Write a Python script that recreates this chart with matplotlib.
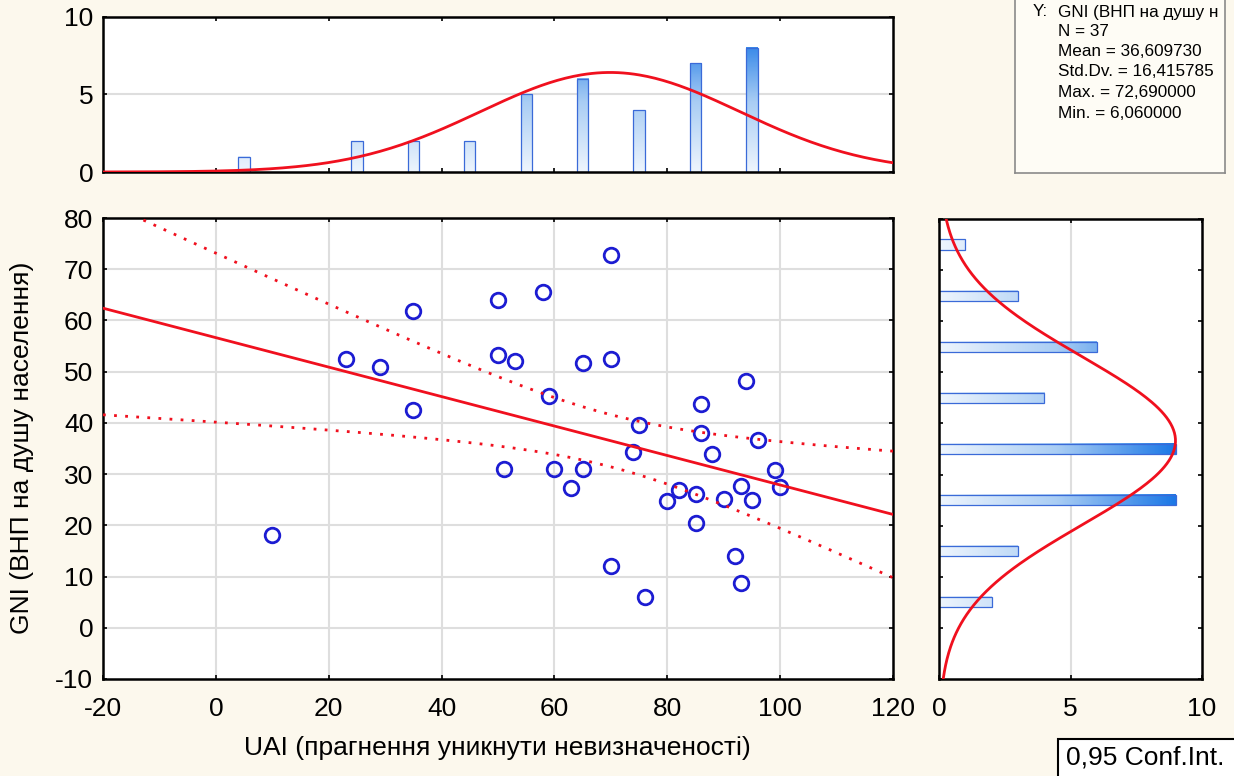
import numpy as np
import matplotlib
matplotlib.use("Agg")
import matplotlib.pyplot as plt
from matplotlib.colors import LinearSegmentedColormap
from matplotlib.patches import Rectangle

plt.rcParams["font.family"] = ["Liberation Sans", "DejaVu Sans"]
plt.rcParams["axes.unicode_minus"] = False

# scatter data
uai = [70, 58, 50, 35, 50, 53, 23, 29, 65, 70, 94, 59, 35, 86, 75, 86, 96, 88, 74,
       51, 60, 65, 63, 82, 85, 80, 90, 93, 95, 99, 100, 85, 92, 93, 70, 76, 10]
gni = [72.69, 65.5, 64.0, 61.8, 53.2, 52.1, 52.5, 50.9, 51.7, 52.5, 48.2, 45.2, 42.5,
       43.7, 39.6, 38.1, 36.6, 33.9, 34.3, 31.0, 31.0, 31.0, 27.3, 26.9, 26.1, 24.7,
       25.1, 27.7, 24.9, 30.8, 27.5, 20.4, 14.0, 8.7, 12.0, 6.06, 18.1]

# marginal histograms
uai_bins = [5, 15, 25, 35, 45, 55, 65, 75, 85, 95]
uai_counts = [1, 0, 2, 2, 2, 5, 6, 4, 7, 8]
gni_bins = [5, 15, 25, 35, 45, 55, 65, 75]
gni_counts = [2, 3, 9, 9, 4, 6, 3, 1]

# the stats box is cut at its right edge in the source, only this part shows
stats_title = "GNI (ВНП на душу н"
stats_lines = ["N = 37", "Mean = 36,609730", "Std.Dv. = 16,415785",
               "Max. = 72,690000", "Min. = 6,060000"]
gni_mean, gni_sd = 36.609730, 16.415785

BG = "#fcf8ed"
RED = "#f0101e"
BLUE = "#1c1cd2"
GRID = "#dedede"
EDGE = "#3a6ad8"
cmap = LinearSegmentedColormap.from_list("bar", ["#eef5fd", "#a9cdf4", "#1c78e6"])

W, H = 1234, 776
fig = plt.figure(figsize=(W / 100, H / 100), dpi=100, facecolor=BG)


def px(x0, y0, x1, y1):
    return [x0 / W, 1 - y1 / H, (x1 - x0) / W, (y1 - y0) / H]


ax_top = fig.add_axes(px(103, 17, 893, 172))
ax = fig.add_axes(px(103, 218, 893, 679))
ax_r = fig.add_axes(px(939, 219, 1202, 679))

for a in (ax_top, ax, ax_r):
    for s in a.spines.values():
        s.set_linewidth(1.8)
        s.set_color("black")
    a.tick_params(direction="in", length=3, width=1.2, labelsize=19,
                  top=True, right=True, pad=7)
    a.tick_params(axis="x", pad=13)
    a.set_axisbelow(True)

x = np.array(uai, dtype=float)
y = np.array(gni, dtype=float)
n = len(x)

# main scatter with regression line and 95% confidence band
ax.set_xlim(-20, 120)
ax.set_ylim(-10, 80)
ax.set_xticks(range(-20, 121, 20))
ax.set_yticks(range(-10, 81, 10))
for v in range(0, 101, 20):
    ax.axvline(v, color=GRID, lw=1.5, zorder=0)
for v in range(0, 80, 10):
    ax.axhline(v, color=GRID, lw=1.5, zorder=0)

b, a0 = np.polyfit(x, y, 1)
xs = np.linspace(-20, 120, 300)
fit = a0 + b * xs
resid = y - (a0 + b * x)
s_err = np.sqrt(np.sum(resid ** 2) / (n - 2))
sxx = np.sum((x - x.mean()) ** 2)
t_crit = 2.0301  # t(0.975, df=35)
half = t_crit * s_err * np.sqrt(1 / n + (xs - x.mean()) ** 2 / sxx)

ax.plot(x, y, "o", mfc="none", mec=BLUE, ms=10.5, mew=2, zorder=3)
ax.plot(xs, fit, color=RED, lw=2, zorder=4)
ax.plot(xs, fit + half, color=RED, lw=2, ls=(0, (1, 3)), zorder=4)
ax.plot(xs, fit - half, color=RED, lw=2, ls=(0, (1, 3)), zorder=4)

# top histogram of UAI
ax_top.set_yticks([0, 5, 10])
ax_top.set_xticks(range(0, 101, 20))
ax_top.tick_params(labelbottom=False)
ax_top.axhline(5, color=GRID, lw=1.5, zorder=0)
for c, cnt in zip(uai_bins, uai_counts):
    if cnt == 0:
        continue
    grad = np.linspace(0, cnt, 100).reshape(-1, 1)
    ax_top.imshow(grad, extent=[c - 1, c + 1, 0, cnt], origin="lower", cmap=cmap,
                  vmin=0, vmax=9, aspect="auto", zorder=1)
    ax_top.add_patch(Rectangle((c - 1, 0), 2, cnt, fill=False, ec=EDGE, lw=0.9, zorder=2))
ux = np.linspace(-20, 120, 300)
um, us = x.mean(), x.std(ddof=1)
ax_top.plot(ux, n * 10 * np.exp(-0.5 * ((ux - um) / us) ** 2) / (us * np.sqrt(2 * np.pi)),
            color=RED, lw=2, zorder=3)
ax_top.set_xlim(-20, 120)
ax_top.set_ylim(0, 10)

# right histogram of GNI
ax_r.set_xticks([0, 5, 10])
ax_r.set_yticks(range(-10, 81, 10))
ax_r.tick_params(labelleft=False)
ax_r.axvline(5, color=GRID, lw=1.5, zorder=0)
for c, cnt in zip(gni_bins, gni_counts):
    grad = np.linspace(0, cnt, 100).reshape(1, -1)
    ax_r.imshow(grad, extent=[0, cnt, c - 1, c + 1], origin="lower", cmap=cmap,
                vmin=0, vmax=9, aspect="auto", zorder=1)
    ax_r.add_patch(Rectangle((0, c - 1), cnt, 2, fill=False, ec=EDGE, lw=0.9, zorder=2))
gy = np.linspace(-10, 80, 300)
ax_r.plot(n * 10 * np.exp(-0.5 * ((gy - gni_mean) / gni_sd) ** 2) / (gni_sd * np.sqrt(2 * np.pi)),
          gy, color=RED, lw=2, zorder=3)
ax_r.set_xlim(0, 10)
ax_r.set_ylim(-10, 80)

# axis titles
fig.text(497 / W, 1 - 748 / H, "UAI (прагнення уникнути невизначеності)",
         ha="center", va="center", fontsize=19)
fig.text(22 / W, 1 - 448 / H, "GNI (ВНП на душу населення)",
         ha="center", va="center", rotation=90, fontsize=19)

# stats box
ax_s = fig.add_axes(px(1015, -10, 1225, 173))
ax_s.set_xticks([])
ax_s.set_yticks([])
ax_s.set_facecolor("#fefcf5")
for s in ax_s.spines.values():
    s.set_color("#8a8a8a")
    s.set_linewidth(1.2)
fig.text(1033 / W, 1 - 12 / H, "Y:", fontsize=12.3, va="center", ha="left")
fig.text(1058 / W, 1 - 12 / H, stats_title, fontsize=12.3, va="center", ha="left")
for i, line in enumerate(stats_lines):
    fig.text(1058 / W, 1 - (31 + 20.5 * i) / H, line, fontsize=12.3, va="center", ha="left")

# confidence label box
fig.patches.append(Rectangle((1058 / W, 1 - 790 / H), 200 / W, 51 / H, transform=fig.transFigure,
                             fc="white", ec="black", lw=1.5, figure=fig))
fig.text(1066 / W, 1 - 758 / H, "0,95 Conf.Int.", ha="left", va="center", fontsize=19)

fig.savefig("out.png", dpi=100, facecolor=BG)
